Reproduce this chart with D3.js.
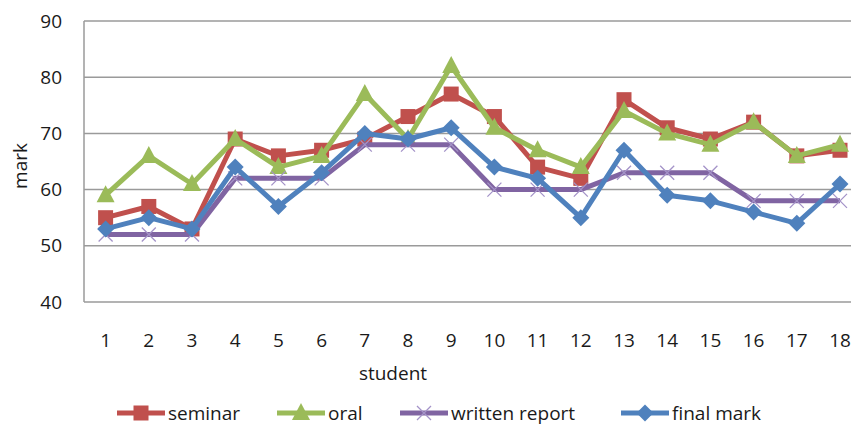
<!DOCTYPE html>
<html>
<head>
<meta charset="utf-8">
<script src="https://cdn.jsdelivr.net/npm/d3@7"></script>
<style>
  body { margin: 0; background: #fff; }
  svg text { font-family: "Open Sans", sans-serif; fill: #1a1a1a; }
</style>
</head>
<body>
<script>
const students = d3.range(1, 19)
const seminar = [55, 57, 53, 69, 66, 67, 69, 73, 77, 73, 64, 62, 76, 71, 69, 72, 66, 67]
const oral = [59, 66, 61, 69, 64, 66, 77, 69, 82, 71, 67, 64, 74, 70, 68, 72, 66, 68]
const written = [52, 52, 52, 62, 62, 62, 68, 68, 68, 60, 60, 60, 63, 63, 63, 58, 58, 58]
const finalMark = [53, 55, 53, 64, 57, 63, 70, 69, 71, 64, 62, 55, 67, 59, 58, 56, 54, 61]
const yTicks = [40, 50, 60, 70, 80, 90]

const series = [
  {name: 'seminar', values: seminar, color: '#C0504D', marker: 'square'},
  {name: 'oral', values: oral, color: '#9BBB59', marker: 'triangle'},
  {name: 'written report', values: written, color: '#8064A2', marker: 'x'},
  {name: 'final mark', values: finalMark, color: '#4F81BD', marker: 'diamond'}
]

const width = 851
const height = 426
const margin = {top: 21, left: 84, bottom: 124}
const fontSize = 19

const svg = d3.select('body').append('svg')
  .attr('width', width)
  .attr('height', height)

const xScale = d3.scaleBand()
  .domain(students)
  .range([margin.left, margin.left + 18 * 43.2])

const yScale = d3.scaleLinear()
  .domain([40, 90])
  .range([height - margin.bottom, margin.top])

// gridlines
svg.append('g').selectAll('line')
  .data(yTicks)
  .enter()
  .append('line')
  .attr('x1', margin.left)
  .attr('x2', width)
  .attr('y1', d => yScale(d))
  .attr('y2', d => yScale(d))
  .attr('stroke', '#9a9a9a')
  .attr('stroke-width', 1.5)

svg.append('line')
  .attr('x1', margin.left)
  .attr('x2', margin.left)
  .attr('y1', yScale(40))
  .attr('y2', yScale(90))
  .attr('stroke', '#9a9a9a')
  .attr('stroke-width', 1.5)

// y axis labels
const yAxis = d3.axisLeft(yScale).tickValues(yTicks).tickSize(0).tickPadding(22)
svg.append('g')
  .attr('transform', `translate(${margin.left}, 0)`)
  .call(yAxis)
  .call(g => g.select('.domain').remove())
  .selectAll('text')
  .attr('font-size', fontSize)
  .attr('font-family', null)

const xAxis = d3.axisBottom(xScale).tickSize(0).tickPadding(32)
svg.append('g')
  .attr('transform', `translate(0, ${yScale(40)})`)
  .call(xAxis)
  .call(g => g.select('.domain').remove())
  .selectAll('text')
  .attr('font-size', fontSize)
  .attr('font-family', null)

svg.append('text')
  .attr('x', 393)
  .attr('y', 380)
  .attr('text-anchor', 'middle')
  .attr('font-size', fontSize)
  .text('student')

svg.append('text')
  .attr('transform', 'translate(27, 166) rotate(-90)')
  .attr('text-anchor', 'middle')
  .attr('font-size', fontSize)
  .text('mark')

const line = d3.line()
  .x((d, i) => xScale(students[i]) + xScale.bandwidth() / 2)
  .y(d => yScale(d))

function drawMarker(g, type, color) {
  if (type === 'square') {
    g.append('rect').attr('x', -7.5).attr('y', -7.5).attr('width', 15).attr('height', 15).attr('fill', color)
  } else if (type === 'triangle') {
    g.append('path').attr('d', 'M0,-10L9,7L-9,7Z').attr('fill', color)
  } else if (type === 'diamond') {
    g.append('path').attr('d', 'M0,-8.5L8.5,0L0,8.5L-8.5,0Z').attr('fill', color)
  } else {
    g.append('path').attr('d', 'M-7,-7L7,7M-7,7L7,-7').attr('stroke', '#a493c8').attr('stroke-width', 1.3).attr('fill', 'none')
  }
}

series.forEach(s => {
  svg.append('path')
    .datum(s.values)
    .attr('fill', 'none')
    .attr('stroke', s.color)
    .attr('stroke-width', 5)
    .attr('stroke-linejoin', 'round')
    .attr('d', line)

  svg.append('g').selectAll('g')
    .data(s.values)
    .enter()
    .append('g')
    .attr('transform', (d, i) => `translate(${xScale(students[i]) + xScale.bandwidth() / 2}, ${yScale(d)})`)
    .each(function () { drawMarker(d3.select(this), s.marker, s.color) })
})

// legend
const legendX = [117, 277, 400, 621]
const legend = svg.append('g').selectAll('g')
  .data(series)
  .enter()
  .append('g')
  .attr('transform', (d, i) => `translate(${legendX[i]}, 413)`)

legend.append('line')
  .attr('x1', 0)
  .attr('x2', 48)
  .attr('stroke', d => d.color)
  .attr('stroke-width', 5)

legend.each(function (d) {
  const g = d3.select(this).append('g').attr('transform', 'translate(24, 0)')
  drawMarker(g, d.marker, d.color)
})

legend.append('text')
  .attr('x', 51)
  .attr('y', 7)
  .attr('font-size', fontSize)
  .text(d => d.name)
</script>
</body>
</html>
